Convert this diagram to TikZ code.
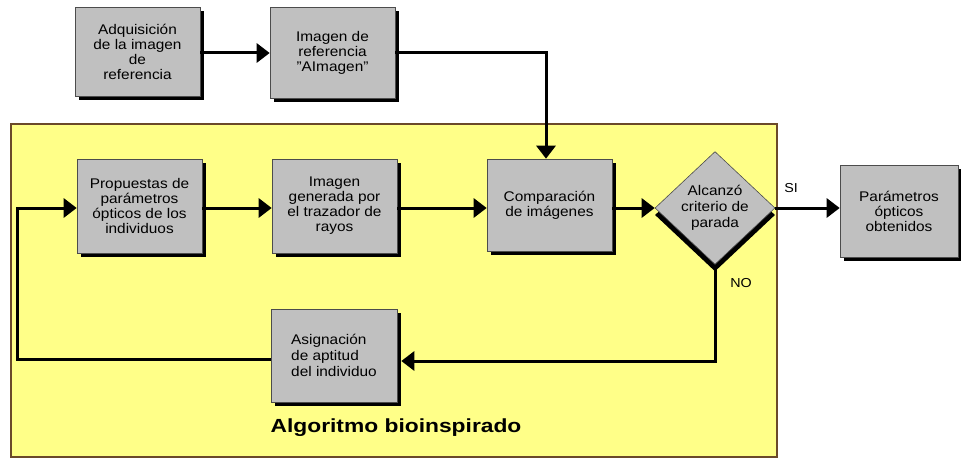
\documentclass[tikz,border=0pt]{standalone}
\usepackage{fontspec}
\setmainfont[FakeStretch=1.1]{Liberation Sans}
\newfontfamily\titlefont[FakeStretch=1.2]{Liberation Sans}
\usetikzlibrary{arrows.meta,shapes.geometric,shadows}
\definecolor{boxgray}{HTML}{C0C0C0}
\definecolor{bgyellow}{HTML}{FFFF88}
\definecolor{bgborder}{HTML}{6B4A2A}
\begin{document}
\begin{tikzpicture}[x=1pt,y=-1pt,
  procbox/.style={draw=black!70, line width=0.6pt, fill=boxgray,
    drop shadow={shadow xshift=4pt, shadow yshift=-4pt, fill=black, opacity=1},
    align=center, inner sep=2pt, font=\fontsize{14}{15}\selectfont},
  decbox/.style={shape=diamond, draw=black!70, line width=0.6pt, fill=boxgray,
    drop shadow={shadow xshift=0pt, shadow yshift=-7pt, fill=black, opacity=1},
    align=center, inner sep=0pt, font=\fontsize{14}{16}\selectfont},
  conn/.style={line width=3pt, draw=black},
  arr/.style={conn, -{Triangle[length=13pt,width=19pt]}},
  lbl/.style={font=\fontsize{13}{14}\selectfont, inner sep=0pt}]
\useasboundingbox (0,0) rectangle (961,460);
\fill[white] (0,0) rectangle (961,460);
\draw[fill=bgyellow, draw=bgborder, line width=1.2pt] (11,124) rectangle (777,457);

\node[procbox, minimum width=125pt, minimum height=89pt] (A) at (137.5,51.5)
  {Adquisición\\de la imagen\\de\\referencia};
\node[procbox, minimum width=125pt, minimum height=91pt] (B) at (332.5,52.5)
  {Imagen de\\referencia\\\symbol{34}AImagen\symbol{34}};
\node[procbox, minimum width=125pt, minimum height=94pt] (P) at (139.5,206)
  {Propuestas de\\parámetros\\ópticos de los\\individuos};
\node[procbox, minimum width=125pt, minimum height=94pt] (G) at (334.5,206)
  {Imagen\\generada por\\el trazador de\\rayos};
\node[procbox, minimum width=125pt, minimum height=92pt] (C) at (549.5,205)
  {Comparación\\de imágenes};
\node[decbox, minimum width=120pt, minimum height=109pt] (D) at (715,208)
  {Alcanzó\\criterio de\\parada};
\node[procbox, minimum width=118pt, minimum height=92pt] (R) at (899,211)
  {Parámetros\\ópticos\\obtenidos};
\node[procbox, minimum width=126pt, minimum height=93pt, align=left,
  font=\fontsize{14}{16}\selectfont] (S) at (334,355.5)
  {Asignación\\de aptitud\\del individuo};

\node[lbl] (si) at (791,188) {SI};
\node[lbl] (no) at (741,283) {NO};
\node[font=\titlefont\bfseries\fontsize{19}{21}\selectfont, inner sep=0pt] (title) at (396,428)
  {Algoritmo bioinspirado};

\coordinate (lb) at (17,359);
\coordinate (lt) at (17,208);
\coordinate (rb) at (715,361);
\coordinate (tc) at (546,53);
\coordinate (mr) at (0,208);

\draw[arr] (A.east |- tc) -- (B.west |- tc);
\draw[arr] (B.east |- tc) -- (tc) -- (tc |- C.north);
\draw[arr] (P.east |- mr) -- (G.west |- mr);
\draw[arr] (G.east |- mr) -- (C.west |- mr);
\draw[arr] (C.east |- mr) -- (D.west);
\draw[arr] (D.east) -- (R.west |- mr);
\draw[arr] (D.south) -- (rb) -- ([xshift=4pt]S.east |- rb);
\draw[arr] (S.west |- lb) -- (lb) -- (lt) -- (P.west |- lt);
\end{tikzpicture}
\end{document}
